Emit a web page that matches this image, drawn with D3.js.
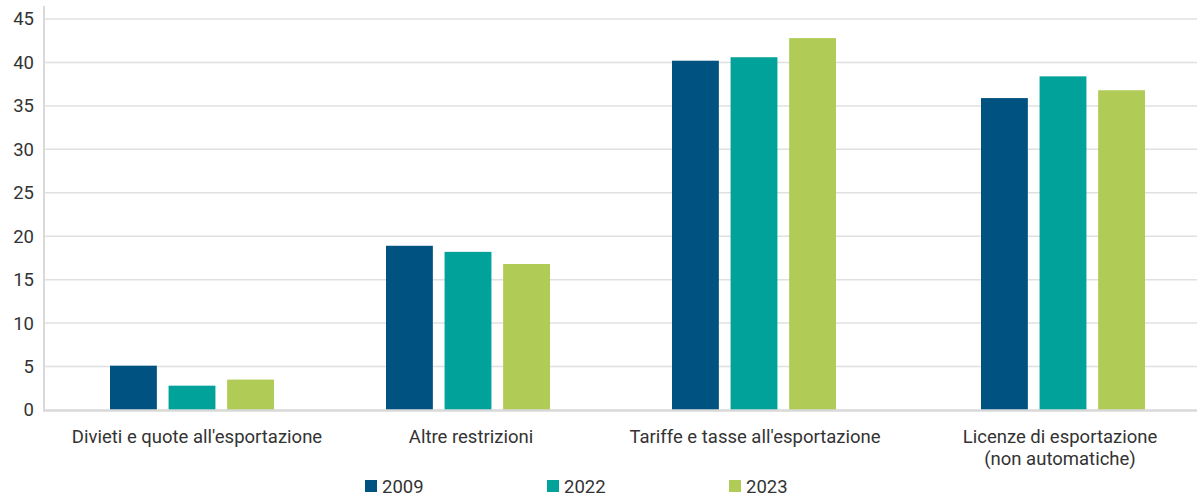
<!DOCTYPE html>
<html>
<head>
<meta charset="utf-8">
<script src="https://cdn.jsdelivr.net/npm/d3@7"></script>
<style>
  html, body { margin: 0; padding: 0; background: #fff; }
  svg { display: block; font-family: Roboto, "Noto Sans", sans-serif; }
</style>
</head>
<body>
<svg id="chart" width="1199" height="497"></svg>
<script>
// Categories (labels may wrap onto two lines)
const categories = [
  ["Divieti e quote all'esportazione"],
  ["Altre restrizioni"],
  ["Tariffe e tasse all'esportazione"],
  ["Licenze di esportazione", "(non automatiche)"]
];
const seriesNames = ["2009", "2022", "2023"];
const values2009 = [5.1, 18.9, 40.2, 35.9];
const values2022 = [2.8, 18.2, 40.6, 38.4];
const values2023 = [3.5, 16.8, 42.8, 36.8];
const yTicks = [0, 5, 10, 15, 20, 25, 30, 35, 40, 45];

const colors = ["#005380", "#00a29a", "#b0cb56"];
const series = [values2009, values2022, values2023];
const fontSize = 18.5;

const svg = d3.select("#chart");
const plot = { left: 45, right: 1197, top: 19, bottom: 410 };

const y = d3.scaleLinear().domain([0, 45]).range([plot.bottom, plot.top]);

// Group centres along the category axis, and label centres beneath them
const idx = categories.map((d, i) => i);
const xGroup = d3.scaleLinear().domain(idx).range([192, 468, 754, 1063]);
const xLabel = d3.scaleLinear().domain(idx).range([197, 471, 755, 1060]);
const xInner = d3.scaleBand().domain(seriesNames).range([-82, 82]).paddingInner(0.2);

// Gridlines
svg.append("g")
  .selectAll("line")
  .data(yTicks.filter(t => t > 0))
  .join("line")
  .attr("x1", plot.left).attr("x2", plot.right)
  .attr("y1", d => y(d)).attr("y2", d => y(d))
  .attr("stroke", "#e0e0e0").attr("stroke-width", 1.5);

// Y axis labels
const yAxis = d3.axisLeft(y).tickValues(yTicks).tickSize(0).tickPadding(11);
const gy = svg.append("g").attr("transform", `translate(${plot.left},0)`).call(yAxis);
gy.select(".domain").remove();
gy.selectAll("text")
  .attr("font-size", fontSize)
  .attr("fill", "#333")
  .attr("font-family", "Roboto, sans-serif");

// Bars
seriesNames.forEach((name, s) => {
  svg.append("g")
    .attr("fill", colors[s])
    .selectAll("rect")
    .data(series[s])
    .join("rect")
    .attr("x", (d, i) => xGroup(i) + xInner(name))
    .attr("width", xInner.bandwidth())
    .attr("y", d => y(d))
    .attr("height", d => y(0) - y(d));
});

// Axis lines
svg.append("line")
  .attr("x1", plot.left - 1).attr("x2", plot.left - 1)
  .attr("y1", 6).attr("y2", plot.bottom + 1.5)
  .attr("stroke", "#d9d9d9").attr("stroke-width", 2);
svg.append("line")
  .attr("x1", plot.left - 2).attr("x2", plot.right)
  .attr("y1", plot.bottom + 0.5).attr("y2", plot.bottom + 0.5)
  .attr("stroke", "#d9d9d9").attr("stroke-width", 2.5);

// Category labels
const cat = svg.append("g")
  .selectAll("text")
  .data(categories)
  .join("text")
  .attr("x", (d, i) => xLabel(i))
  .attr("y", 443)
  .attr("text-anchor", "middle")
  .attr("font-size", fontSize)
  .attr("fill", "#333");
cat.selectAll("tspan")
  .data(d => d)
  .join("tspan")
  .attr("x", function () { return d3.select(this.parentNode).attr("x"); })
  .attr("dy", (d, i) => i === 0 ? 0 : 22)
  .text(d => d);

// Legend
const legendX = d3.scalePoint().domain(seriesNames).range([365, 729]);
const lg = svg.append("g")
  .selectAll("g")
  .data(seriesNames)
  .join("g")
  .attr("transform", d => `translate(${legendX(d)},480)`);
lg.append("rect")
  .attr("width", 12).attr("height", 12)
  .attr("fill", (d, i) => colors[i]);
lg.append("text")
  .attr("x", 17).attr("y", 13)
  .attr("font-size", fontSize)
  .attr("fill", "#333")
  .text(d => d);
</script>
</body>
</html>
